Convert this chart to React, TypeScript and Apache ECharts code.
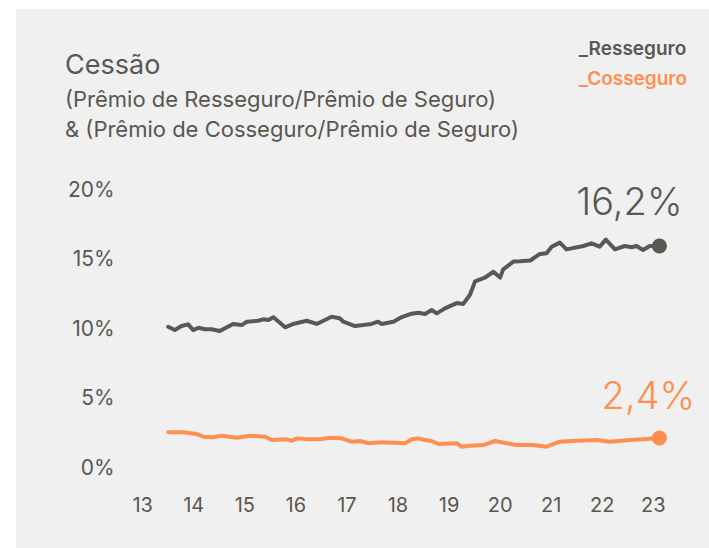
import React, { useEffect, useRef } from "react";
import * as echarts from "echarts";

const xTicks = [13, 14, 15, 16, 17, 18, 19, 20, 21, 22, 23];
const yTicks = [0, 5, 10, 15, 20];

const resseguroTime = [
  13.5, 13.63, 13.76, 13.89, 13.99, 14.09, 14.22, 14.35, 14.51, 14.77, 14.94, 15.04, 15.26, 15.36,
  15.46, 15.56, 15.79, 15.95, 16.21, 16.41, 16.7, 16.86, 16.93, 17.16, 17.48, 17.61, 17.68, 17.91,
  18.05, 18.24, 18.4, 18.53, 18.66, 18.76, 18.92, 19.15, 19.28, 19.41, 19.51, 19.7, 19.87, 20.0,
  20.06, 20.26, 20.39, 20.59, 20.78, 20.91, 21.01, 21.17, 21.3, 21.63, 21.79, 21.95, 22.07, 22.25,
  22.44, 22.58, 22.67, 22.8, 22.93, 23.12,
];
const resseguroValues = [
  10.4, 10.16, 10.45, 10.57, 10.16, 10.33, 10.22, 10.22, 10.09, 10.6, 10.52, 10.76, 10.83, 10.93,
  10.88, 11.08, 10.36, 10.6, 10.83, 10.6, 11.12, 11.01, 10.76, 10.45, 10.6, 10.76, 10.6, 10.76,
  11.05, 11.31, 11.41, 11.31, 11.6, 11.36, 11.72, 12.1, 12.04, 12.7, 13.66, 13.92, 14.35, 13.93,
  14.52, 15.08, 15.1, 15.16, 15.63, 15.68, 16.15, 16.44, 15.96, 16.2, 16.39, 16.15, 16.66, 15.96,
  16.2, 16.11, 16.2, 15.91, 16.2, 16.2,
];

const cosseguroTime = [
  13.5, 13.8, 14.06, 14.19, 14.38, 14.55, 14.84, 15.1, 15.4, 15.53, 15.82, 15.92, 16.02, 16.24,
  16.51, 16.67, 16.9, 17.09, 17.26, 17.42, 17.68, 18.14, 18.27, 18.4, 18.53, 18.66, 18.79, 19.15,
  19.25, 19.41, 19.67, 19.9, 20.13, 20.32, 20.65, 20.91, 21.17, 21.5, 21.89, 22.15, 22.54, 22.87,
  23.12,
];
const cosseguroValues = [
  2.82, 2.82, 2.69, 2.5, 2.46, 2.57, 2.43, 2.57, 2.5, 2.26, 2.31, 2.21, 2.38, 2.31, 2.33, 2.43,
  2.38, 2.14, 2.19, 2.03, 2.1, 2.03, 2.31, 2.38, 2.26, 2.19, 1.98, 2.03, 1.78, 1.85, 1.9, 2.19,
  2.03, 1.9, 1.9, 1.78, 2.14, 2.21, 2.26, 2.14, 2.26, 2.33, 2.4,
];

const titleText = "Cessão";
const subtitleText = "(Prêmio de Resseguro/Prêmio de Seguro)\n& (Prêmio de Cosseguro/Prêmio de Seguro)";
const seriesNames = ["Resseguro", "Cosseguro"];

const GRAY = "#5b5753";
const ORANGE = "#ff8f4e";
const TEXT = "#5a5650";
const FONT = "Inter, 'Noto Sans', sans-serif";

const fmt = (v: number) => v.toFixed(1).replace(".", ",") + "%";

function buildSeries(name: string, t: number[], v: number[], color: string, labelOffset: number[]) {
  const last = t.length - 1;
  return {
    type: "line",
    name,
    silent: true,
    symbol: (_val: any, params: any) => (params.dataIndex === last ? "circle" : "none"),
    symbolSize: 15,
    showSymbol: true,
    itemStyle: { color },
    lineStyle: { color, width: 4, cap: "round", join: "round" },
    emphasis: { disabled: true },
    data: t.map((x, i) => {
      const item: any = { value: [x, v[i]] };
      if (i === last) {
        item.label = {
          show: true,
          position: "top",
          distance: 8,
          offset: labelOffset,
          formatter: fmt(v[i]),
          color,
          fontFamily: FONT,
          fontSize: 38,
          fontWeight: 300,
        };
      }
      return item;
    }),
  };
}

export default function App() {
  const ref = useRef<HTMLDivElement>(null);
  useEffect(() => {
    if (!ref.current) return;
    const chart = echarts.init(ref.current, undefined, { renderer: "svg" });
    chart.setOption({
      animation: false,
      backgroundColor: "#ffffff",
      graphic: [
        { type: "rect", z: -10, shape: { x: 16, y: 9, width: 693, height: 539 }, style: { fill: "#f0f0f0" }, silent: true },
      ],
      title: {
        text: titleText,
        subtext: subtitleText,
        left: 60,
        top: 44,
        itemGap: 5,
        textStyle: { fontFamily: FONT, fontSize: 27, fontWeight: 400, color: TEXT, lineHeight: 30 },
        subtextStyle: { fontFamily: FONT, fontSize: 22, fontWeight: 400, color: TEXT, lineHeight: 30 },
      },
      legend: {
        orient: "vertical",
        left: 569,
        top: 33,
        icon: "none",
        itemWidth: 0,
        itemHeight: 14,
        itemGap: 10,
        selectedMode: false,
        formatter: (n: string) => "_" + n,
        textStyle: { fontFamily: FONT, fontSize: 19, fontWeight: 600, lineHeight: 20 },
        data: [
          { name: seriesNames[0], textStyle: { color: GRAY } },
          { name: seriesNames[1], textStyle: { color: ORANGE } },
        ],
      },
      grid: { left: 142.7, right: 30.2, top: 193.1, bottom: 76.5, containLabel: false },
      xAxis: {
        type: "value",
        min: 13,
        max: 23.5,
        interval: 1,
        axisLine: { show: false },
        axisTick: { show: false },
        splitLine: { show: false },
        axisLabel: {
          margin: 23,
          color: TEXT,
          fontFamily: FONT,
          fontSize: 20,
          formatter: (v: number) => (xTicks.includes(v) ? String(v) : ""),
        },
      },
      yAxis: {
        type: "value",
        min: yTicks[0],
        max: yTicks[yTicks.length - 1],
        interval: 5,
        axisLine: { show: false },
        axisTick: { show: false },
        splitLine: { show: false },
        axisLabel: {
          margin: 28,
          color: TEXT,
          fontFamily: FONT,
          fontSize: 21,
          verticalAlign: "bottom",
          lineHeight: 8,
          formatter: (v: number) => v + "%",
        },
      },
      series: [
        buildSeries(seriesNames[0], resseguroTime, resseguroValues, GRAY, [-30, -10]),
        buildSeries(seriesNames[1], cosseguroTime, cosseguroValues, ORANGE, [-11, -9]),
      ],
    });
    return () => chart.dispose();
  }, []);
  return <div ref={ref} style={{ position: "fixed", left: 0, top: 0, width: 709, height: 548 }} />;
}
